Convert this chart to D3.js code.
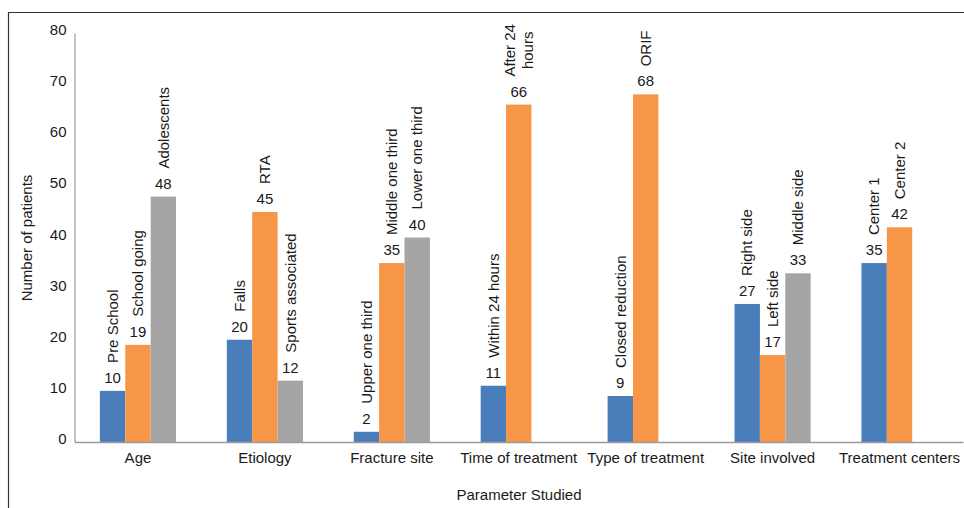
<!DOCTYPE html>
<html>
<head>
<meta charset="utf-8">
<script src="https://cdn.jsdelivr.net/npm/d3@7"></script>
<style>
  html, body { margin: 0; padding: 0; background: #fff; }
  text { font-family: "Liberation Sans", Arial, sans-serif; fill: #1a1a1a; }
</style>
</head>
<body>
<svg id="chart" width="964" height="508"></svg>
<script>
const categories = ["Age", "Etiology", "Fracture site", "Time of treatment", "Type of treatment", "Site involved", "Treatment centers"];
const series1Values = [10, 20, 2, 11, 9, 27, 35];
const series2Values = [19, 45, 35, 66, 68, 17, 42];
const series3Values = [48, 12, 40, null, null, 33, null];
const series1Labels = ["Pre School", "Falls", "Upper one third", "Within 24 hours", "Closed reduction", "Right side", "Center 1"];
const series2Labels = ["School going", "RTA", "Middle one third", "After 24|hours", "ORIF", "Left side", "Center 2"];
const series3Labels = ["Adolescents", "Sports associated", "Lower one third", null, null, "Middle side", null];
const yTicks = [0, 10, 20, 30, 40, 50, 60, 70, 80];
const seriesColors = ["#4a7ebb", "#f79646", "#a5a5a5"];

const svg = d3.select("#chart");

// outer frame (top and left)
svg.append("line").attr("x1", 8).attr("x2", 964).attr("y1", 12.5).attr("y2", 12.5)
  .attr("stroke", "#333").attr("stroke-width", 1.2);
svg.append("line").attr("x1", 8.5).attr("x2", 8.5).attr("y1", 12).attr("y2", 508)
  .attr("stroke", "#333").attr("stroke-width", 1.2);

const x = d3.scaleBand().domain(categories).range([74.5, 963]).paddingInner(0).paddingOuter(0);
const y = d3.scaleLinear().domain([0, 80]).range([442, 33]);
const sub = d3.scaleBand().domain([0, 1, 2]).range([x.bandwidth() * 0.2, x.bandwidth() * 0.8]);

// y axis
const yAxis = d3.axisLeft(y).tickValues(yTicks).tickSize(0).tickPadding(8);
const gy = svg.append("g").attr("transform", "translate(74.5,0)").call(yAxis);
gy.select(".domain").attr("stroke", "#9a9a9a").attr("stroke-width", 1.2);
gy.selectAll(".tick text").attr("font-size", 15).attr("fill", "#1a1a1a")
  .attr("font-family", "Liberation Sans, Arial, sans-serif").attr("dy", "0.1em");

const rows = categories.map((c, i) => ({
  cat: c,
  bars: [
    { s: 0, v: series1Values[i], label: series1Labels[i] },
    { s: 1, v: series2Values[i], label: series2Labels[i] },
    { s: 2, v: series3Values[i], label: series3Labels[i] }
  ].filter(b => b.v !== null)
}));

const groups = svg.append("g").selectAll("g").data(rows).join("g")
  .attr("transform", d => `translate(${x(d.cat)},0)`);

groups.selectAll("rect").data(d => d.bars).join("rect")
  .attr("x", b => sub(b.s))
  .attr("width", sub.bandwidth())
  .attr("y", b => y(b.v))
  .attr("height", b => y(0) - y(b.v))
  .attr("fill", b => seriesColors[b.s]);

// value labels
groups.selectAll("text.val").data(d => d.bars).join("text")
  .attr("class", "val")
  .attr("x", b => sub(b.s) + sub.bandwidth() / 2)
  .attr("y", b => y(b.v) - 8)
  .attr("text-anchor", "middle")
  .attr("font-size", 15)
  .text(b => b.v);

// rotated category labels
groups.each(function(d) {
  const g = d3.select(this);
  d.bars.forEach(b => {
    const cx = sub(b.s) + sub.bandwidth() / 2;
    const bottom = y(b.v) - 8 - 11 - 9;
    const lines = b.label.split("|");
    const t = g.append("text")
      .attr("font-size", 15)
      .attr("text-anchor", "middle");
    lines.forEach((ln, k) => {
      t.append("tspan").attr("x", 0)
        .attr("dy", k === 0 ? `${0.35 - (lines.length - 1) * 0.6}em` : "1.2em")
        .text(ln);
    });
    let maxW = 0;
    t.selectAll("tspan").each(function() { maxW = Math.max(maxW, this.getComputedTextLength()); });
    t.attr("transform", `translate(${cx},${bottom - maxW / 2}) rotate(-90)`);
  });
});

// x axis
const xAxis = d3.axisBottom(x).tickSize(0).tickPadding(10);
const gx = svg.append("g").attr("transform", "translate(0,442)").call(xAxis);
gx.select(".domain").attr("stroke", "#9a9a9a").attr("stroke-width", 1.5);
gx.selectAll(".tick text").attr("font-size", 15).attr("fill", "#1a1a1a")
  .attr("font-family", "Liberation Sans, Arial, sans-serif");

// axis titles
svg.append("text").attr("x", 519).attr("y", 500).attr("text-anchor", "middle")
  .attr("font-size", 15).text("Parameter Studied");
svg.append("text").attr("transform", "translate(32,238) rotate(-90)")
  .attr("text-anchor", "middle").attr("font-size", 15).text("Number of patients");
</script>
</body>
</html>
